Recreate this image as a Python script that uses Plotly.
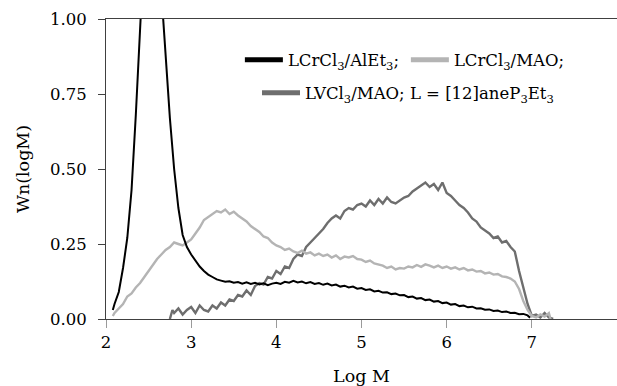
import plotly.graph_objects as go

# ---- data ----
black_x = [2.08, 2.10, 2.15, 2.20, 2.25, 2.30, 2.35, 2.40, 2.45, 2.50, 2.55, 2.60, 2.65, 2.70, 2.75,
           2.80, 2.85, 2.90, 2.95, 3.00, 3.05, 3.10, 3.15, 3.20, 3.25, 3.30, 3.35, 3.40, 3.45, 3.50,
           3.55, 3.60, 3.65, 3.70, 3.75, 3.80, 3.85, 3.90, 3.95, 4.00, 4.05, 4.10, 4.15, 4.20, 4.25,
           4.30, 4.35, 4.40, 4.45, 4.50, 4.55, 4.60, 4.65, 4.70, 4.75, 4.80, 4.85, 4.90, 4.95, 5.00,
           5.05, 5.10, 5.15, 5.20, 5.25, 5.30, 5.35, 5.40, 5.45, 5.50, 5.55, 5.60, 5.65, 5.70, 5.75,
           5.80, 5.85, 5.90, 5.95, 6.00, 6.05, 6.10, 6.15, 6.20, 6.25, 6.30, 6.35, 6.40, 6.45, 6.50,
           6.55, 6.60, 6.65, 6.70, 6.75, 6.80, 6.85, 6.90, 6.95, 6.98]
black_y = [0.03, 0.05, 0.09, 0.17, 0.27, 0.43, 0.68, 1.00, 1.25, 1.35, 1.38, 1.30, 1.08, 0.88, 0.67,
           0.50, 0.37, 0.28, 0.24, 0.215, 0.195, 0.175, 0.16, 0.148, 0.14, 0.132, 0.128, 0.124, 0.126, 0.121,
           0.123, 0.118, 0.122, 0.117, 0.121, 0.115, 0.119, 0.113, 0.118, 0.121, 0.117, 0.124, 0.121, 0.127, 0.122,
           0.125, 0.119, 0.123, 0.117, 0.120, 0.114, 0.118, 0.112, 0.115, 0.108, 0.111, 0.105, 0.108, 0.101, 0.103,
           0.097, 0.099, 0.092, 0.094, 0.088, 0.089, 0.083, 0.085, 0.079, 0.080, 0.073, 0.075, 0.068, 0.070, 0.063,
           0.065, 0.058, 0.060, 0.053, 0.055, 0.048, 0.050, 0.043, 0.045, 0.039, 0.041, 0.035, 0.036, 0.031, 0.032,
           0.027, 0.028, 0.023, 0.025, 0.020, 0.021, 0.016, 0.017, 0.012, 0.004]

light_x = [2.08, 2.10, 2.15, 2.20, 2.25, 2.30, 2.35, 2.40, 2.45, 2.50, 2.55, 2.60, 2.65, 2.70, 2.75,
           2.80, 2.85, 2.90, 2.95, 3.00, 3.05, 3.10, 3.15, 3.20, 3.25, 3.30, 3.35, 3.40, 3.45, 3.50,
           3.55, 3.60, 3.65, 3.70, 3.75, 3.80, 3.85, 3.90, 3.95, 4.00, 4.05, 4.10, 4.15, 4.20, 4.25,
           4.30, 4.35, 4.40, 4.45, 4.50, 4.55, 4.60, 4.65, 4.70, 4.75, 4.80, 4.85, 4.90, 4.95, 5.00,
           5.05, 5.10, 5.15, 5.20, 5.25, 5.30, 5.35, 5.40, 5.45, 5.50, 5.55, 5.60, 5.65, 5.70, 5.75,
           5.80, 5.85, 5.90, 5.95, 6.00, 6.05, 6.10, 6.15, 6.20, 6.25, 6.30, 6.35, 6.40, 6.45, 6.50,
           6.55, 6.60, 6.65, 6.70, 6.75, 6.80, 6.85, 6.90, 6.95, 7.00, 7.05, 7.10, 7.15, 7.20, 7.22]
light_y = [0.01, 0.02, 0.035, 0.05, 0.075, 0.085, 0.105, 0.12, 0.14, 0.16, 0.18, 0.20, 0.215, 0.23, 0.24,
           0.255, 0.25, 0.245, 0.255, 0.265, 0.285, 0.305, 0.33, 0.34, 0.35, 0.36, 0.355, 0.365, 0.35, 0.358,
           0.345, 0.335, 0.325, 0.31, 0.30, 0.29, 0.275, 0.27, 0.255, 0.245, 0.24, 0.23, 0.235, 0.225, 0.22,
           0.228, 0.218, 0.222, 0.212, 0.218, 0.21, 0.215, 0.205, 0.212, 0.20, 0.208, 0.205, 0.21, 0.20, 0.198,
           0.19, 0.195, 0.185, 0.182, 0.178, 0.17, 0.175, 0.165, 0.17, 0.168, 0.175, 0.172, 0.18, 0.174, 0.182,
           0.178, 0.172, 0.178, 0.17, 0.175, 0.168, 0.172, 0.165, 0.17, 0.162, 0.165, 0.158, 0.16, 0.152, 0.155,
           0.148, 0.15, 0.142, 0.14, 0.135, 0.125, 0.10, 0.06, 0.03, 0.01, 0.005, 0.015, 0.008, 0.02, 0.0]

dark_x = [2.75, 2.78, 2.80, 2.85, 2.90, 2.95, 3.00, 3.05, 3.10, 3.15, 3.20, 3.25, 3.30, 3.35, 3.40,
          3.45, 3.50, 3.55, 3.60, 3.65, 3.70, 3.75, 3.80, 3.85, 3.90, 3.95, 4.00, 4.05, 4.10, 4.15,
          4.20, 4.25, 4.30, 4.35, 4.40, 4.45, 4.50, 4.55, 4.60, 4.65, 4.70, 4.75, 4.80, 4.85, 4.90,
          4.95, 5.00, 5.05, 5.10, 5.15, 5.20, 5.25, 5.30, 5.35, 5.40, 5.45, 5.50, 5.55, 5.60, 5.65,
          5.70, 5.75, 5.80, 5.85, 5.90, 5.95, 6.00, 6.05, 6.10, 6.15, 6.20, 6.25, 6.30, 6.35, 6.40,
          6.45, 6.50, 6.55, 6.60, 6.65, 6.70, 6.75, 6.80, 6.85, 6.90, 6.95, 7.00, 7.05, 7.10, 7.15,
          7.20, 7.25]
dark_y = [0.0, 0.03, 0.02, 0.035, 0.015, 0.03, 0.04, 0.02, 0.045, 0.03, 0.025, 0.045, 0.035, 0.055, 0.045,
          0.065, 0.06, 0.08, 0.075, 0.095, 0.08, 0.11, 0.12, 0.115, 0.14, 0.135, 0.16, 0.15, 0.175, 0.17,
          0.20, 0.215, 0.21, 0.24, 0.255, 0.27, 0.285, 0.30, 0.32, 0.335, 0.345, 0.335, 0.36, 0.37, 0.365,
          0.38, 0.385, 0.375, 0.395, 0.38, 0.40, 0.385, 0.405, 0.39, 0.385, 0.395, 0.405, 0.41, 0.425, 0.435,
          0.445, 0.455, 0.44, 0.45, 0.43, 0.455, 0.42, 0.41, 0.395, 0.38, 0.37, 0.355, 0.335, 0.325, 0.305,
          0.295, 0.285, 0.27, 0.275, 0.255, 0.26, 0.24, 0.225, 0.16, 0.10, 0.05, 0.01, 0.015, 0.005, 0.02,
          0.005, 0.0]

names = ["LCrCl<sub>3</sub>/AlEt<sub>3</sub>;", "LCrCl<sub>3</sub>/MAO;",
         "LVCl<sub>3</sub>/MAO; L = [12]aneP<sub>3</sub>Et<sub>3</sub>"]
colors = ["#000000", "#b4b4b4", "#6e6e6e"]

x_ticks = [2, 3, 4, 5, 6, 7, 8]
y_ticks = [0.0, 0.25, 0.50, 0.75, 1.00]

FONT = "DejaVu Serif"

fig = go.Figure()
fig.add_trace(go.Scatter(x=dark_x, y=dark_y, mode="lines", line=dict(color=colors[2], width=2.4),
                         showlegend=False, hoverinfo="skip"))
fig.add_trace(go.Scatter(x=light_x, y=light_y, mode="lines", line=dict(color=colors[1], width=2.4),
                         showlegend=False, hoverinfo="skip"))
fig.add_trace(go.Scatter(x=black_x, y=black_y, mode="lines", line=dict(color=colors[0], width=2),
                         showlegend=False, hoverinfo="skip"))
# legend entries (thick samples)
fig.add_trace(go.Scatter(x=[None], y=[None], mode="lines", name=names[0],
                         line=dict(color=colors[0], width=5), legend="legend"))
fig.add_trace(go.Scatter(x=[None], y=[None], mode="lines", name=names[1],
                         line=dict(color=colors[1], width=5), legend="legend"))
fig.add_trace(go.Scatter(x=[None], y=[None], mode="lines", name=names[2],
                         line=dict(color=colors[2], width=5), legend="legend2"))

fig.update_layout(
    width=617, height=386,
    margin=dict(l=106, r=0, t=19, b=67),
    paper_bgcolor="white", plot_bgcolor="white",
    font=dict(family=FONT, size=16, color="#000000"),
    legend=dict(orientation="h", x=0.262, y=0.863, xanchor="left", yanchor="middle",
                bgcolor="rgba(0,0,0,0)", font=dict(family=FONT, size=16.5), itemwidth=38,
                entrywidth=113, entrywidthmode="pixels", traceorder="normal"),
    legend2=dict(orientation="h", x=0.2955, y=0.753, xanchor="left", yanchor="middle",
                 bgcolor="rgba(0,0,0,0)", font=dict(family=FONT, size=16.5), itemwidth=38),
    xaxis=dict(range=[2, 8], tickvals=x_ticks, ticktext=[str(v) for v in x_ticks],
               showgrid=False, zeroline=False, showline=True, linecolor="#404040", linewidth=1,
               mirror=True, ticks="outside", ticklen=8, tickcolor="#9a9a9a", tickwidth=1,
               title=dict(text="Log M", font=dict(family=FONT, size=17.5), standoff=19),
               tickfont=dict(family=FONT, size=16.5), automargin=False),
    yaxis=dict(range=[0, 1], tickvals=y_ticks, ticktext=[f"{v:.2f}" for v in y_ticks],
               showgrid=False, zeroline=False, showline=True, linecolor="#404040", linewidth=1,
               ticks="outside", ticklen=7, tickcolor="#404040", tickwidth=1, ticklabelstandoff=8,
               title=dict(text="Wn(logM)", font=dict(family=FONT, size=17.5), standoff=15),
               tickfont=dict(family=FONT, size=16.5), automargin=False),
)

fig.write_html("out.html")
